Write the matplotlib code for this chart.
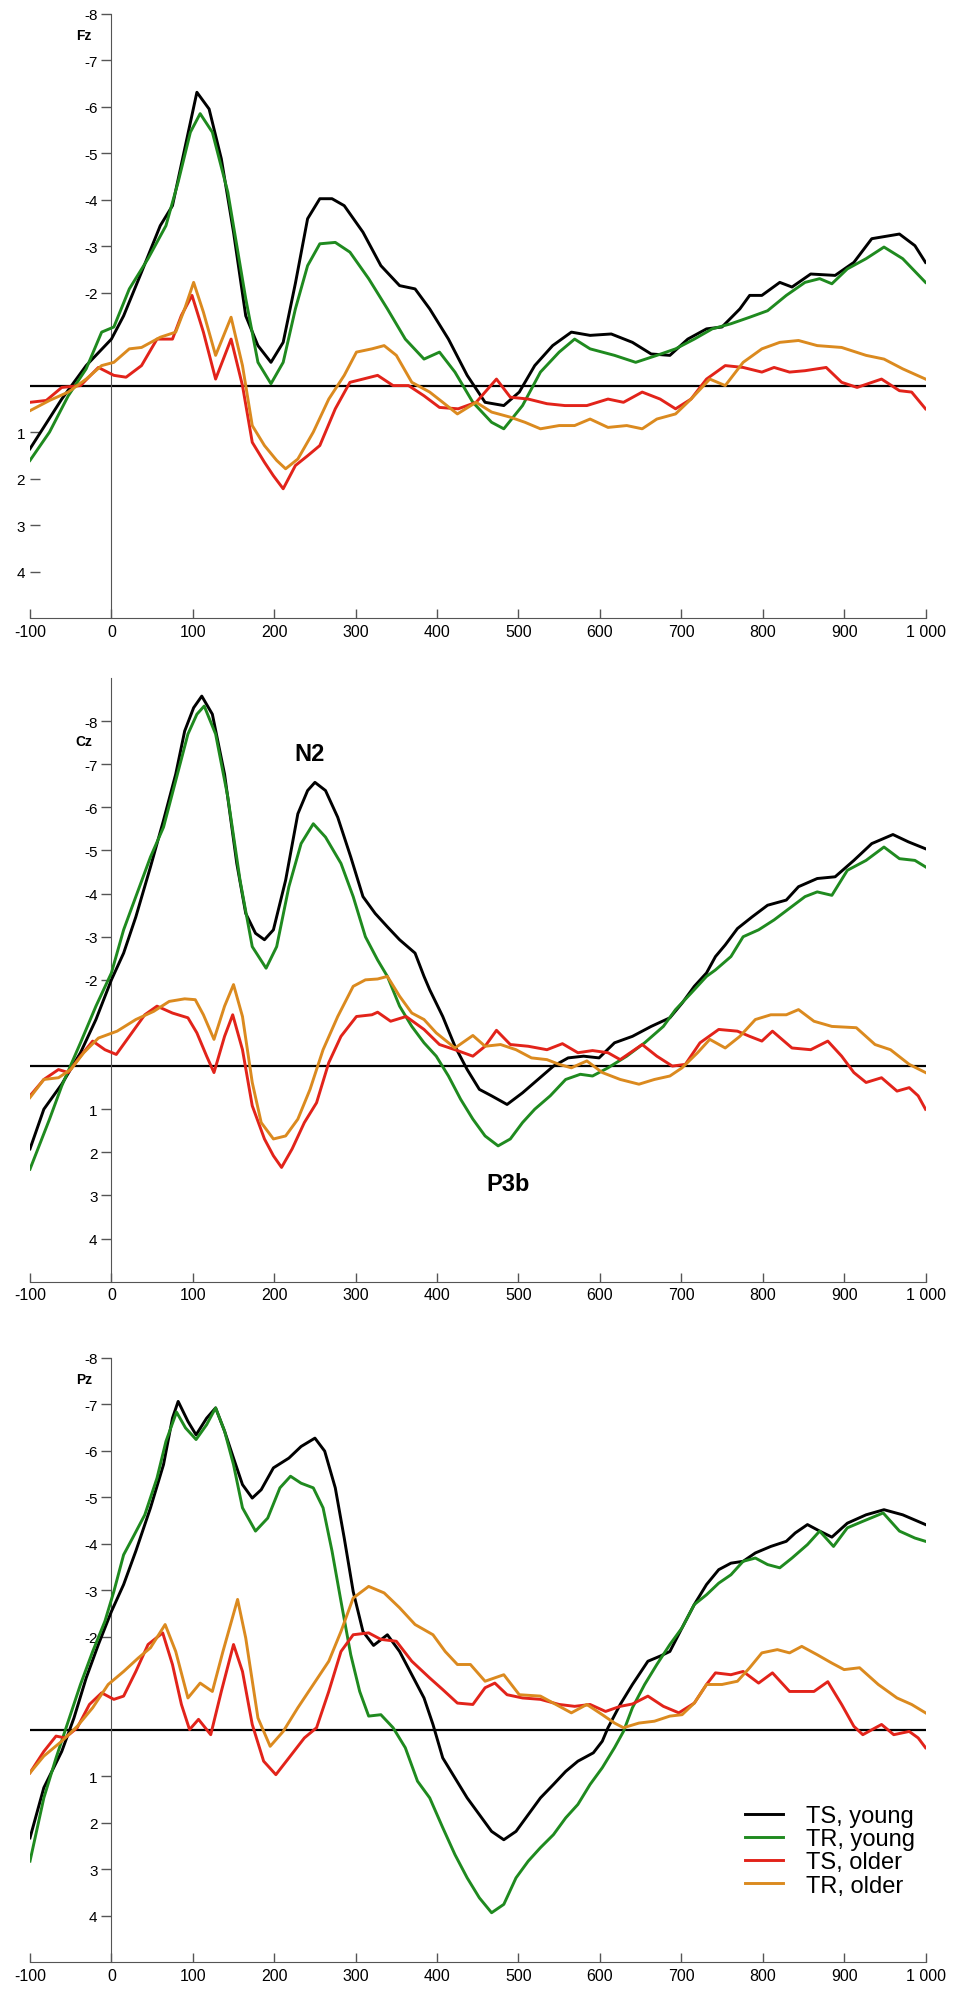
import matplotlib
matplotlib.use("Agg")
import matplotlib.pyplot as plt

plt.rcParams["font.family"] = ["Liberation Sans", "DejaVu Sans"]
plt.rcParams["axes.unicode_minus"] = False

labels = ["TS, young", "TR, young", "TS, older", "TR, older"]
colors = ["#000000", "#1f8a1f", "#e2231a", "#db8a1f"]
xticks = [-100, 0, 100, 200, 300, 400, 500, 600, 700, 800, 900, 1000]
xticklabels = ["-100", "0", "100", "200", "300", "400", "500", "600", "700", "800", "900", "1 000"]
neg_ticks = [-8, -7, -6, -5, -4, -3, -2]
pos_ticks = [1, 2, 3, 4]

# ---- Fz ----
fz_ts_young_t = [-100, -61, -31, 0, 15, 37, 60, 75, 90, 105, 120, 135, 150, 165, 180, 196, 211, 226, 241, 256,
                 271, 286, 309, 331, 354, 373, 391, 414, 437, 459, 482, 501, 520, 542, 565, 588, 614, 640, 663, 686,
                 708, 731, 750, 772, 784, 799, 821, 836, 859, 889, 912, 934, 968, 987, 1000]
fz_ts_young_v = [1.36, 0.29, -0.43, -1.0, -1.5, -2.44, -3.44, -3.87, -5.09, -6.31, -5.95, -4.88, -3.3, -1.5, -0.86,
                 -0.5, -0.93, -2.2, -3.59, -4.02, -4.02, -3.87, -3.3, -2.58, -2.15, -2.08, -1.65, -1.0, -0.22, 0.36,
                 0.43, 0.14, -0.43, -0.86, -1.15, -1.08, -1.11, -0.93, -0.68, -0.65, -1.0, -1.22, -1.26, -1.65, -1.94,
                 -1.94, -2.22, -2.12, -2.4, -2.37, -2.65, -3.16, -3.26, -3.01, -2.65]
fz_tr_young_t = [-100, -76, -53, -31, -12, 3, 22, 45, 67, 82, 97, 109, 124, 143, 165, 180, 196, 211, 226, 241,
                 256, 275, 293, 316, 339, 361, 384, 403, 422, 444, 467, 482, 505, 527, 550, 569, 588, 618, 644, 670,
                 693, 716, 738, 761, 784, 806, 829, 852, 870, 885, 904, 927, 949, 972, 1000]
fz_tr_young_v = [1.61, 1.0, 0.22, -0.36, -1.15, -1.26, -2.08, -2.73, -3.44, -4.38, -5.45, -5.85, -5.45, -4.16, -1.87,
                 -0.5, -0.04, -0.5, -1.65, -2.58, -3.05, -3.08, -2.87, -2.3, -1.65, -1.0, -0.57, -0.72, -0.29, 0.36,
                 0.79, 0.93, 0.43, -0.29, -0.72, -1.0, -0.79, -0.65, -0.5, -0.65, -0.79, -1.0, -1.22, -1.33, -1.47,
                 -1.61, -1.94, -2.22, -2.3, -2.19, -2.51, -2.73, -2.98, -2.73, -2.22]
fz_ts_older_t = [-100, -80, -61, -38, -16, 3, 18, 37, 56, 75, 86, 99, 113, 128, 147, 161, 173, 188, 199, 211,
                 226, 241, 256, 275, 293, 309, 327, 346, 365, 384, 403, 426, 448, 473, 490, 512, 535, 557, 584, 610,
                 629, 652, 674, 693, 712, 731, 754, 776, 799, 814, 833, 852, 878, 897, 916, 946, 968, 983, 1000]
fz_ts_older_v = [0.36, 0.32, 0.04, 0, -0.39, -0.22, -0.18, -0.43, -1.0, -1.0, -1.51, -1.94, -1.15, -0.14, -1.0,
                 0, 1.22, 1.65, 1.94, 2.22, 1.72, 1.51, 1.29, 0.5, -0.07, -0.14, -0.22, 0, 0, 0.22,
                 0.47, 0.5, 0.36, -0.14, 0.25, 0.29, 0.39, 0.43, 0.43, 0.29, 0.36, 0.14, 0.29, 0.5, 0.29,
                 -0.14, -0.43, -0.39, -0.29, -0.39, -0.29, -0.32, -0.39, -0.07, 0.04, -0.14, 0.11, 0.14, 0.5]
fz_tr_older_t = [-100, -76, -53, -31, -12, 3, 22, 37, 60, 79, 90, 101, 113, 128, 147, 161, 173, 188, 203, 214,
                 229, 248, 267, 286, 301, 320, 335, 350, 369, 391, 407, 425, 448, 467, 490, 508, 527, 550, 569, 588,
                 610, 633, 652, 670, 693, 712, 735, 754, 776, 799, 821, 844, 867, 897, 927, 949, 972, 1000]
fz_tr_older_v = [0.54, 0.32, 0.14, -0.14, -0.43, -0.5, -0.79, -0.82, -1.04, -1.15, -1.65, -2.22, -1.58, -0.65, -1.47,
                 -0.43, 0.86, 1.29, 1.61, 1.79, 1.58, 1.0, 0.29, -0.22, -0.72, -0.79, -0.86, -0.65, -0.07, 0.14,
                 0.36, 0.61, 0.36, 0.57, 0.68, 0.79, 0.93, 0.86, 0.86, 0.72, 0.9, 0.86, 0.93, 0.72, 0.61,
                 0.29, -0.14, 0, -0.5, -0.79, -0.93, -0.97, -0.86, -0.82, -0.65, -0.57, -0.36, -0.14]

# ---- Cz ----
cz_ts_young_t = [-100, -83, -61, -38, -19, 0, 15, 30, 48, 64, 79, 90, 101, 111, 124, 139, 154, 165, 177, 188,
                 199, 214, 229, 241, 250, 263, 278, 294, 309, 324, 339, 354, 373, 384, 391, 407, 422, 437, 452, 467,
                 486, 505, 524, 543, 561, 580, 599, 618, 640, 663, 686, 701, 716, 731, 742, 754, 769, 787, 806, 829,
                 844, 867, 889, 912, 934, 960, 979, 1000]
cz_ts_young_v = [1.92, 1.0, 0.42, -0.31, -1.08, -2.0, -2.62, -3.46, -4.62, -5.7, -6.77, -7.77, -8.31, -8.58, -8.16,
                 -6.77, -4.7, -3.54, -3.08, -2.93, -3.16, -4.31, -5.85, -6.39, -6.58, -6.39, -5.77, -4.85, -3.93, -3.54,
                 -3.23, -2.93, -2.62, -2.08, -1.77, -1.15, -0.46, 0.08, 0.54, 0.69, 0.89, 0.62, 0.31, 0, -0.19,
                 -0.23, -0.19, -0.54, -0.69, -0.92, -1.12, -1.46, -1.85, -2.16, -2.54, -2.81, -3.19, -3.46, -3.73, -3.85,
                 -4.16, -4.35, -4.39, -4.77, -5.16, -5.37, -5.2, -5.04]
cz_tr_young_t = [-100, -76, -61, -38, -19, 0, 15, 30, 48, 64, 79, 94, 105, 114, 128, 143, 158, 173, 190, 203,
                 218, 233, 248, 263, 282, 297, 312, 327, 339, 354, 369, 384, 399, 414, 429, 444, 459, 475, 490, 505,
                 520, 539, 558, 576, 591, 610, 633, 655, 678, 693, 712, 731, 742, 761, 776, 795, 814, 833, 852, 867,
                 885, 904, 927, 949, 968, 987, 1000]
cz_tr_young_v = [2.39, 1.23, 0.46, -0.54, -1.39, -2.16, -3.16, -3.93, -4.85, -5.54, -6.62, -7.7, -8.16, -8.35, -7.7,
                 -6.24, -4.31, -2.77, -2.27, -2.77, -4.16, -5.16, -5.62, -5.31, -4.7, -3.93, -3.0, -2.46, -2.08, -1.39,
                 -0.92, -0.54, -0.23, 0.23, 0.77, 1.23, 1.62, 1.85, 1.69, 1.31, 1.0, 0.69, 0.31, 0.19, 0.23,
                 0.04, -0.23, -0.54, -0.92, -1.31, -1.69, -2.08, -2.23, -2.54, -3.0, -3.16, -3.39, -3.66, -3.93, -4.04,
                 -3.96, -4.54, -4.77, -5.08, -4.81, -4.77, -4.62]
cz_ts_older_t = [-100, -83, -65, -53, -38, -23, -8, 6, 22, 41, 56, 75, 94, 105, 117, 126, 139, 149, 161, 173,
                 188, 199, 209, 222, 237, 252, 267, 282, 301, 320, 327, 343, 362, 384, 403, 422, 444, 459, 473, 490,
                 512, 535, 554, 573, 591, 610, 625, 652, 670, 689, 705, 723, 746, 769, 784, 799, 812, 836, 859, 880,
                 897, 912, 927, 946, 965, 980, 991, 1000]
cz_ts_older_v = [0.69, 0.31, 0.08, 0.15, -0.23, -0.58, -0.38, -0.27, -0.69, -1.19, -1.39, -1.23, -1.12, -0.77, -0.23,
                 0.15, -0.69, -1.19, -0.38, 0.92, 1.69, 2.08, 2.35, 1.92, 1.31, 0.85, -0.08, -0.69, -1.15, -1.19,
                 -1.25, -1.04, -1.15, -0.85, -0.5, -0.38, -0.23, -0.46, -0.83, -0.5, -0.46, -0.38, -0.52, -0.31, -0.36,
                 -0.31, -0.15, -0.5, -0.23, 0, -0.04, -0.54, -0.85, -0.81, -0.69, -0.58, -0.81, -0.42, -0.38, -0.58,
                 -0.23, 0.15, 0.38, 0.27, 0.58, 0.5, 0.69, 1.0]
cz_tr_older_t = [-100, -83, -65, -50, -34, -16, 7, 30, 52, 71, 90, 103, 113, 126, 139, 150, 161, 173, 184, 199,
                 214, 229, 244, 260, 278, 297, 312, 327, 339, 354, 369, 384, 399, 422, 444, 459, 478, 497, 516, 535,
                 550, 565, 584, 603, 625, 648, 667, 686, 701, 720, 735, 754, 772, 791, 810, 829, 844, 863, 885, 915,
                 938, 957, 980, 1000]
cz_tr_older_v = [0.73, 0.31, 0.27, 0.08, -0.31, -0.65, -0.81, -1.08, -1.27, -1.5, -1.56, -1.54, -1.19, -0.62, -1.39,
                 -1.89, -1.15, 0.38, 1.31, 1.69, 1.62, 1.23, 0.54, -0.38, -1.15, -1.85, -2.0, -2.02, -2.08, -1.62,
                 -1.23, -1.08, -0.77, -0.42, -0.71, -0.46, -0.5, -0.38, -0.19, -0.15, -0.04, 0.04, -0.12, 0.15, 0.31,
                 0.42, 0.31, 0.23, 0.04, -0.31, -0.62, -0.42, -0.69, -1.08, -1.19, -1.19, -1.31, -1.04, -0.92, -0.89,
                 -0.5, -0.38, -0.04, 0.15]

# ---- Pz ----
pz_ts_young_t = [-100, -83, -61, -46, -31, -16, 0, 15, 30, 48, 64, 75, 82, 94, 104, 117, 128, 139, 150, 161,
                 173, 184, 199, 218, 233, 250, 262, 275, 286, 297, 309, 322, 339, 354, 369, 384, 395, 407, 422, 437,
                 452, 467, 482, 497, 512, 527, 543, 558, 573, 592, 603, 610, 625, 640, 659, 674, 686, 701, 716, 731,
                 746, 761, 776, 791, 810, 829, 840, 855, 870, 885, 904, 927, 949, 972, 1000]
pz_ts_young_v = [2.33, 1.25, 0.47, -0.25, -1.11, -1.83, -2.54, -3.12, -3.84, -4.77, -5.7, -6.7, -7.06, -6.63, -6.34,
                 -6.7, -6.92, -6.42, -5.84, -5.27, -4.98, -5.16, -5.63, -5.84, -6.09, -6.27, -5.99, -5.2, -4.12, -2.97,
                 -2.11, -1.81, -2.04, -1.68, -1.18, -0.68, -0.11, 0.61, 1.04, 1.47, 1.83, 2.19, 2.37, 2.19, 1.83,
                 1.47, 1.18, 0.9, 0.68, 0.5, 0.25, -0.04, -0.54, -0.97, -1.47, -1.58, -1.68, -2.19, -2.69, -3.12,
                 -3.44, -3.58, -3.62, -3.8, -3.94, -4.05, -4.23, -4.41, -4.27, -4.14, -4.44, -4.62, -4.73, -4.62, -4.41]
pz_tr_young_t = [-100, -83, -68, -53, -38, -23, -8, 3, 15, 26, 41, 56, 67, 80, 91, 104, 117, 128, 139, 150,
                 161, 177, 192, 207, 220, 233, 248, 260, 271, 282, 294, 305, 316, 331, 346, 361, 376, 391, 407, 422,
                 437, 452, 467, 482, 497, 512, 527, 543, 558, 573, 588, 603, 618, 629, 640, 655, 670, 686, 701, 716,
                 731, 746, 761, 776, 791, 806, 821, 836, 855, 870, 887, 904, 923, 948, 968, 987, 1000]
pz_tr_young_v = [2.83, 1.47, 0.61, -0.18, -0.97, -1.68, -2.33, -2.97, -3.76, -4.12, -4.62, -5.41, -6.2, -6.83, -6.49,
                 -6.24, -6.56, -6.92, -6.42, -5.7, -4.77, -4.27, -4.55, -5.2, -5.45, -5.3, -5.2, -4.77, -3.84, -2.76,
                 -1.61, -0.82, -0.29, -0.32, -0.04, 0.39, 1.11, 1.47, 2.11, 2.69, 3.19, 3.62, 3.94, 3.76, 3.19,
                 2.83, 2.54, 2.26, 1.9, 1.61, 1.18, 0.82, 0.39, 0.04, -0.47, -0.97, -1.4, -1.83, -2.19, -2.69,
                 -2.9, -3.15, -3.33, -3.62, -3.69, -3.55, -3.48, -3.69, -3.98, -4.27, -3.94, -4.34, -4.48, -4.66, -4.27,
                 -4.12, -4.05]
pz_ts_older_t = [-100, -83, -68, -57, -42, -27, -12, 3, 15, 30, 45, 63, 75, 86, 96, 107, 122, 135, 150, 161,
                 173, 187, 202, 218, 237, 252, 267, 282, 297, 316, 331, 350, 369, 391, 407, 425, 444, 459, 471, 486,
                 505, 527, 550, 569, 588, 607, 625, 640, 659, 678, 697, 716, 731, 742, 761, 776, 795, 812, 833, 852,
                 863, 880, 897, 912, 923, 946, 961, 980, 991, 1000]
pz_ts_older_v = [0.93, 0.47, 0.14, 0.18, -0.04, -0.54, -0.79, -0.65, -0.72, -1.25, -1.83, -2.08, -1.4, -0.54, 0,
                 -0.22, 0.11, -0.82, -1.83, -1.25, -0.11, 0.68, 0.97, 0.61, 0.18, -0.04, -0.82, -1.68, -2.04, -2.08,
                 -1.94, -1.9, -1.47, -1.11, -0.86, -0.57, -0.54, -0.9, -1.0, -0.75, -0.68, -0.65, -0.54, -0.5, -0.54,
                 -0.39, -0.5, -0.55, -0.72, -0.5, -0.36, -0.57, -0.97, -1.22, -1.18, -1.25, -1.0, -1.22, -0.82, -0.82,
                 -0.82, -1.03, -0.54, -0.07, 0.11, -0.11, 0.11, 0.04, 0.18, 0.39]
pz_tr_older_t = [-100, -83, -61, -42, -23, -4, 15, 33, 48, 66, 79, 94, 109, 124, 137, 155, 165, 180, 195, 211,
                 229, 248, 267, 282, 297, 316, 335, 354, 373, 395, 410, 425, 441, 459, 482, 501, 527, 546, 565, 584,
                 603, 618, 629, 648, 667, 686, 701, 716, 731, 750, 769, 784, 799, 818, 833, 848, 867, 885, 900, 919,
                 942, 965, 983, 1000]
pz_tr_older_v = [0.93, 0.57, 0.25, -0.07, -0.47, -0.97, -1.25, -1.54, -1.76, -2.26, -1.68, -0.68, -1.0, -0.82, -1.68,
                 -2.8, -1.97, -0.25, 0.36, 0.04, -0.47, -0.97, -1.47, -2.11, -2.83, -3.08, -2.94, -2.62, -2.26, -2.04,
                 -1.68, -1.4, -1.4, -1.04, -1.18, -0.75, -0.72, -0.54, -0.36, -0.54, -0.32, -0.14, -0.04, -0.14, -0.18,
                 -0.29, -0.32, -0.57, -0.97, -0.97, -1.04, -1.33, -1.65, -1.72, -1.65, -1.79, -1.61, -1.43, -1.29, -1.33,
                 -0.97, -0.68, -0.54, -0.36]


def draw_panel(ax, series, top, name, split_ticks):
    for (t, v), c, lab in zip(series, colors, labels):
        ax.plot(t, v, color=c, lw=2.1, label=lab, solid_joinstyle="round", zorder=3)
    ax.axhline(0, color="black", lw=1.6, zorder=2)
    ax.set_xlim(-100, 1000)
    ax.set_ylim(5, top)
    ax.spines["top"].set_visible(False)
    ax.spines["right"].set_visible(False)
    ax.spines["left"].set_position(("data", 0))
    ax.spines["left"].set_color("#555555")
    ax.spines["bottom"].set_color("#555555")
    ax.set_xticks(xticks)
    ax.set_xticklabels(xticklabels)
    ax.tick_params(axis="x", direction="in", length=6.5, width=1, color="#555555", labelsize=11.5, pad=4)
    ax.tick_params(axis="y", direction="out", length=7, width=1, color="#555555", labelsize=11, pad=3)
    if split_ticks:
        # positive values labelled at the left edge (-100 ms)
        ax.set_yticks(neg_ticks)
        sec = ax.secondary_yaxis(0.0)
        sec.set_yticks(pos_ticks)
        sec.spines["left"].set_visible(False)
        sec.tick_params(direction="in", length=7, width=1, color="#555555", labelsize=11, pad=3.5)
    else:
        ax.set_yticks(neg_ticks + pos_ticks)
    ax.text(-24, -7.55, name, ha="right", va="center", fontsize=10, fontweight="bold")


fig = plt.figure(figsize=(9.6, 19.9), dpi=100)
left, width = 30 / 960, 895.5 / 960
ax1 = fig.add_axes([left, 1 - 619 / 1990, width, 604.3 / 1990])
ax2 = fig.add_axes([left, 1 - 1282.7 / 1990, width, 603.7 / 1990])
ax3 = fig.add_axes([left, 1 - 1963 / 1990, width, 604.3 / 1990])

draw_panel(ax1, [(fz_ts_young_t, fz_ts_young_v), (fz_tr_young_t, fz_tr_young_v),
                 (fz_ts_older_t, fz_ts_older_v), (fz_tr_older_t, fz_tr_older_v)], -8, "Fz", True)
draw_panel(ax2, [(cz_ts_young_t, cz_ts_young_v), (cz_tr_young_t, cz_tr_young_v),
                 (cz_ts_older_t, cz_ts_older_v), (cz_tr_older_t, cz_tr_older_v)], -9, "Cz", False)
draw_panel(ax3, [(pz_ts_young_t, pz_ts_young_v), (pz_tr_young_t, pz_tr_young_v),
                 (pz_ts_older_t, pz_ts_older_v), (pz_tr_older_t, pz_tr_older_v)], -8, "Pz", False)

ax2.text(244, -7.24, "N2", ha="center", va="center", fontsize=17, fontweight="bold")
ax2.text(487, 2.73, "P3b", ha="center", va="center", fontsize=17, fontweight="bold")

ax3.legend(loc="upper left", bbox_to_anchor=(745 / 960, 1 - 1806 / 1990), bbox_transform=fig.transFigure,
           frameon=False, fontsize=17, handlelength=1.6, handletextpad=1.0, labelspacing=0.05,
           borderpad=0, borderaxespad=0)

fig.savefig("out.png", dpi=100)
